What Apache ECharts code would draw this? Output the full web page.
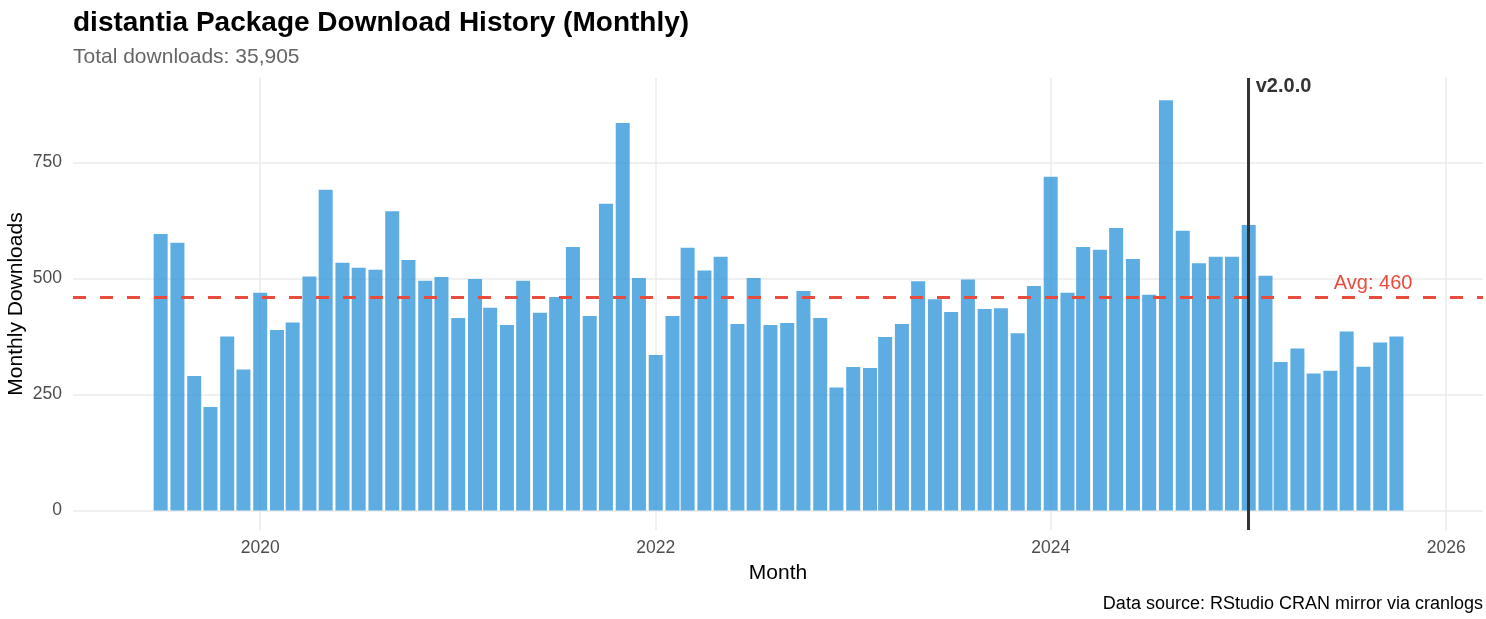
<!DOCTYPE html>
<html><head><meta charset="utf-8">
<script src="https://cdn.jsdelivr.net/npm/echarts@6/dist/echarts.min.js"></script>
<style>html,body{margin:0;padding:0;background:#fff}#c{width:1486px;height:619px}</style>
</head><body><div id="c"></div>
<script>
const months = [
  '2019-07','2019-08','2019-09','2019-10','2019-11','2019-12',
  '2020-01','2020-02','2020-03','2020-04','2020-05','2020-06','2020-07','2020-08','2020-09','2020-10','2020-11','2020-12',
  '2021-01','2021-02','2021-03','2021-04','2021-05','2021-06','2021-07','2021-08','2021-09','2021-10','2021-11','2021-12',
  '2022-01','2022-02','2022-03','2022-04','2022-05','2022-06','2022-07','2022-08','2022-09','2022-10','2022-11','2022-12',
  '2023-01','2023-02','2023-03','2023-04','2023-05','2023-06','2023-07','2023-08','2023-09','2023-10','2023-11','2023-12',
  '2024-01','2024-02','2024-03','2024-04','2024-05','2024-06','2024-07','2024-08','2024-09','2024-10','2024-11','2024-12',
  '2025-01','2025-02','2025-03','2025-04','2025-05','2025-06','2025-07','2025-08','2025-09','2025-10'
];
const downloads = [
  596, 577, 290, 223, 375, 304,
  469, 389, 405, 504, 691, 534, 523, 519, 645, 540, 495, 503,
  415, 499, 437, 400, 495, 426, 460, 568, 419, 661, 835, 501,
  335, 419, 566, 517, 547, 402, 501, 400, 404, 473, 415, 265,
  309, 307, 374, 402, 494, 455, 428, 498, 434, 436, 382, 484,
  719, 469, 568, 562, 609, 542, 465, 884, 603, 533, 547, 547,
  615, 506, 320, 349, 295, 301, 386, 310, 362, 375
];
const yTicks = [0, 250, 500, 750];
const xTickDates = ['2020-01-01', '2022-01-01', '2024-01-01', '2026-01-01'];
const xRange = ['2019-01-20', '2026-03-10'];
const yRange = [-42, 932];
const avgDownloads = 460;
const avgLabel = 'Avg: 460';
const avgLabelAt = ['2025-08-19', 489];
const releaseDate = '2025-01-01';
const releaseLabel = 'v2.0.0';
const releaseLabelY = 913;

function ts(s) {
  const p = s.split('-').map(Number);
  return Date.UTC(p[0], p[1] - 1, p[2] || 1);
}

const FONT = '"Liberation Sans", Arial, sans-serif';
const chart = echarts.init(document.getElementById('c'), null, { renderer: 'canvas' });

chart.setOption({
  animation: false,
  backgroundColor: '#ffffff',
  textStyle: { fontFamily: FONT },
  title: [
    { text: 'distantia Package Download History (Monthly)', left: 73, top: 9, padding: 0,
      textStyle: { fontFamily: FONT, fontSize: 28, fontWeight: 'bold', color: '#000000', lineHeight: 28 } },
    { text: 'Total downloads: 35,905', left: 73, top: 47, padding: 0,
      textStyle: { fontFamily: FONT, fontSize: 21, fontWeight: 'normal', color: '#666666', lineHeight: 21 } },
    { text: 'Data source: RStudio CRAN mirror via cranlogs', right: 3, top: 595, padding: 0,
      textStyle: { fontFamily: FONT, fontSize: 18, fontWeight: 'normal', color: '#000000', lineHeight: 18 } }
  ],
  grid: { left: 73, right: 3, top: 78, bottom: 89, containLabel: false, outerBoundsMode: 'none' },
  xAxis: {
    type: 'value',
    min: ts(xRange[0]), max: ts(xRange[1]),
    name: 'Month', nameLocation: 'middle', nameGap: 33, nameMoveOverlap: false,
    nameTextStyle: { fontFamily: FONT, fontSize: 21, color: '#000000' },
    axisLine: { show: false },
    axisTick: { show: false, customValues: xTickDates.map(ts) },
    axisLabel: { customValues: xTickDates.map(ts), margin: 9, fontFamily: FONT, fontSize: 17.5, color: '#4D4D4D',
      formatter: function (v) { return String(new Date(v).getUTCFullYear()); } },
    splitLine: { show: true, lineStyle: { color: '#EBEBEB', width: 1.5 } }
  },
  yAxis: {
    type: 'value',
    min: yRange[0], max: yRange[1],
    name: 'Monthly Downloads', nameLocation: 'middle', nameGap: 46, nameRotate: 90, nameMoveOverlap: false,
    nameTextStyle: { fontFamily: FONT, fontSize: 21, color: '#000000' },
    axisLine: { show: false },
    axisTick: { show: false, customValues: yTicks },
    axisLabel: { customValues: yTicks, margin: 11, fontFamily: FONT, fontSize: 17.5, color: '#4D4D4D' },
    splitLine: { show: true, lineStyle: { color: '#EBEBEB', width: 1.5 } }
  },
  series: [{
    type: 'bar',
    data: months.map((m, i) => [ts(m), downloads[i]]),
    barWidth: 14,
    itemStyle: { color: '#3498DB', opacity: 0.8 },
    markLine: {
      silent: true, symbol: 'none', animation: false,
      data: [
        { yAxis: avgDownloads, label: { show: false },
          lineStyle: { color: '#E74C3C', width: 3, type: [13, 14], opacity: 1 } },
        { xAxis: ts(releaseDate), label: { show: false },
          lineStyle: { color: '#333333', width: 3, type: 'solid', opacity: 1 } }
      ]
    },
    markPoint: {
      silent: true, symbol: 'circle', symbolSize: 0, animation: false,
      data: [
        { coord: [ts(releaseDate), releaseLabelY],
          label: { show: true, position: 'right', distance: 7, formatter: releaseLabel,
            fontFamily: FONT, fontSize: 20, fontWeight: 'bold', color: '#333333' } },
        { coord: [ts(avgLabelAt[0]), avgLabelAt[1]],
          label: { show: true, position: 'inside', formatter: avgLabel,
            fontFamily: FONT, fontSize: 20, color: '#E74C3C' } }
      ]
    }
  }]
});
</script>
</body></html>
